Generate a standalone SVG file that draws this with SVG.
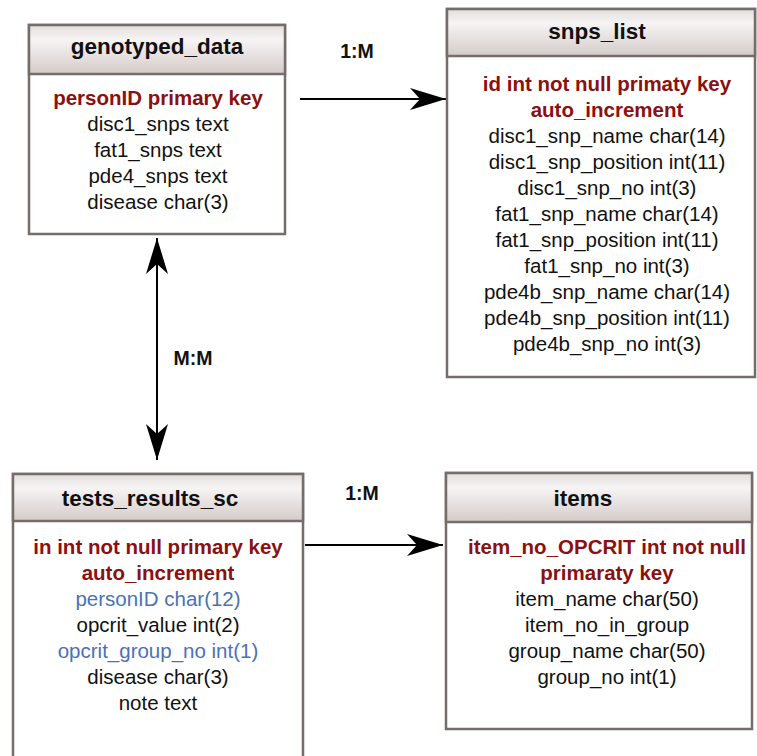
<svg xmlns="http://www.w3.org/2000/svg" width="757" height="756" viewBox="0 0 757 756">
<style>
.box{fill:#ffffff;stroke:#756d69;stroke-width:2.5}
.hdr{fill:url(#hg);stroke:#756d69;stroke-width:2.5}
.title{font-family:"Liberation Sans",Arial,sans-serif;font-weight:bold;font-size:22.5px;fill:#111;text-anchor:middle}
.f{font-family:"Liberation Sans",Arial,sans-serif;font-size:20.5px;fill:#111;text-anchor:middle}
.pk{font-weight:bold;fill:#8b1010}
.fk{fill:#4a72b5}
.lbl{font-family:"Liberation Sans",Arial,sans-serif;font-weight:bold;font-size:19.5px;fill:#111;text-anchor:middle}
.conn{stroke:#000;stroke-width:2;fill:none}
</style>
<defs>
<linearGradient id="hg" x1="0" y1="0" x2="0" y2="1">
<stop offset="0" stop-color="#e2dedd"/>
<stop offset="0.3" stop-color="#f6f4f4"/>
<stop offset="1" stop-color="#d4cbc9"/>
</linearGradient>
<marker id="ah" viewBox="0 0 36 22" refX="36" refY="11" markerWidth="36" markerHeight="22" markerUnits="userSpaceOnUse" orient="auto-start-reverse">
<path d="M0,0 L36,11 L0,22 L10,11 z" fill="#000"/>
</marker>
</defs>

<g id="connectors">
<line class="conn" x1="300" y1="99" x2="446" y2="99" marker-end="url(#ah)"/>
<line class="conn" x1="157" y1="238" x2="157" y2="460" marker-start="url(#ah)" marker-end="url(#ah)"/>
<line class="conn" x1="305" y1="545" x2="443" y2="545" marker-end="url(#ah)"/>
<text class="lbl" x="357" y="58">1:M</text>
<text class="lbl" x="193" y="365">M:M</text>
<text class="lbl" x="362" y="500">1:M</text>
</g>

<g id="genotyped_data">
<rect class="box" x="29" y="25" width="256" height="209"/>
<rect class="hdr" x="29" y="25" width="256" height="49"/>
<text class="title" x="157" y="54">genotyped_data</text>
<text class="f pk" x="158" y="105">personID primary key</text>
<text class="f" x="158" y="131">disc1_snps text</text>
<text class="f" x="158" y="157">fat1_snps text</text>
<text class="f" x="158" y="183">pde4_snps text</text>
<text class="f" x="158" y="209">disease char(3)</text>
</g>

<g id="snps_list">
<rect class="box" x="447" y="9" width="308" height="368"/>
<rect class="hdr" x="447" y="9" width="308" height="47"/>
<text class="title" x="597" y="39">snps_list</text>
<text class="f pk" x="607" y="90.5">id int not null primaty key</text>
<text class="f pk" x="607" y="116.5">auto_increment</text>
<text class="f" x="607" y="142.5">disc1_snp_name char(14)</text>
<text class="f" x="607" y="168.5">disc1_snp_position int(11)</text>
<text class="f" x="607" y="194.5">disc1_snp_no int(3)</text>
<text class="f" x="607" y="220.5">fat1_snp_name char(14)</text>
<text class="f" x="607" y="246.5">fat1_snp_position int(11)</text>
<text class="f" x="607" y="272.5">fat1_snp_no int(3)</text>
<text class="f" x="607" y="298.5">pde4b_snp_name char(14)</text>
<text class="f" x="607" y="324.5">pde4b_snp_position int(11)</text>
<text class="f" x="607" y="350.5">pde4b_snp_no int(3)</text>
</g>

<g id="tests_results_sc">
<rect class="box" x="13" y="474" width="290" height="300"/>
<rect class="hdr" x="13" y="474" width="290" height="47"/>
<text class="title" x="150" y="506">tests_results_sc</text>
<text class="f pk" x="158" y="553.5">in int not null primary key</text>
<text class="f pk" x="158" y="579.5">auto_increment</text>
<text class="f fk" x="158" y="605.5">personID char(12)</text>
<text class="f" x="158" y="631.5">opcrit_value int(2)</text>
<text class="f fk" x="158" y="657.5">opcrit_group_no int(1)</text>
<text class="f" x="158" y="683.5">disease char(3)</text>
<text class="f" x="158" y="709.5">note text</text>
</g>

<g id="items">
<rect class="box" x="446" y="473" width="306" height="256"/>
<rect class="hdr" x="446" y="473" width="306" height="49"/>
<text class="title" x="583" y="506">items</text>
<text class="f pk" x="607" y="553.5">item_no_OPCRIT int not null</text>
<text class="f pk" x="607" y="579.5">primaraty key</text>
<text class="f" x="607" y="605.5">item_name char(50)</text>
<text class="f" x="607" y="631.5">item_no_in_group</text>
<text class="f" x="607" y="657.5">group_name char(50)</text>
<text class="f" x="607" y="683.5">group_no int(1)</text>
</g>
</svg>
